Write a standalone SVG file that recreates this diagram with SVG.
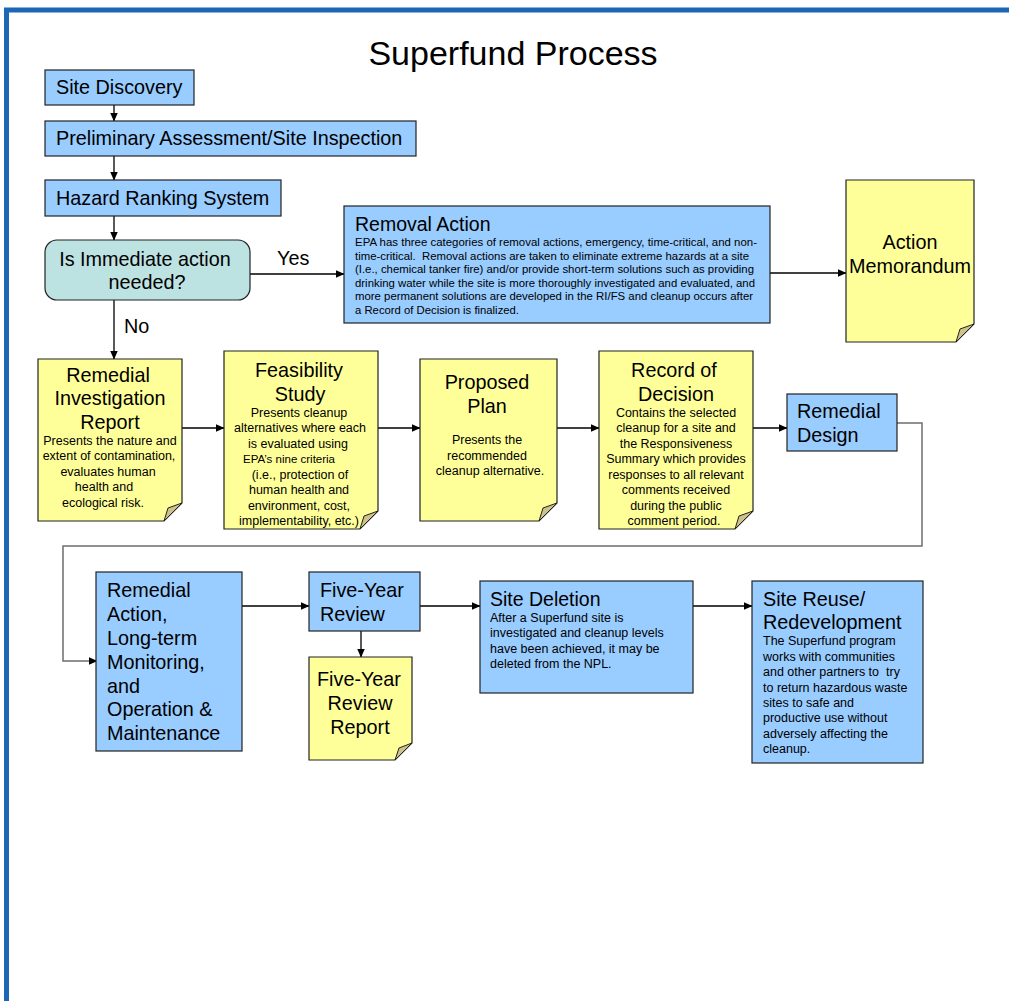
<svg xmlns="http://www.w3.org/2000/svg" width="1009" height="1001" viewBox="0 0 1009 1001">
<defs>
<marker id="ah" markerWidth="9" markerHeight="8" refX="8.5" refY="4" orient="auto" markerUnits="userSpaceOnUse">
<path d="M0,0 L9,4 L0,8 Z" fill="#000"/>
</marker>
<style>
text{font-family:"Liberation Sans",Arial,sans-serif;fill:#000}
.big{font-size:19.8px}
.body{font-size:12.5px}
.rm{font-size:11px}
.c{text-anchor:middle}
.box{fill:#99ccff;stroke:#222;stroke-width:1.2}
.note{fill:#ffff99;stroke:#222;stroke-width:1.2}
.fold{fill:#cdc28a;stroke:#222;stroke-width:1}
.dec{fill:#bde2e2;stroke:#222;stroke-width:1.2}
.cn{fill:none;stroke:#000;stroke-width:1.3}
.cg{fill:none;stroke:#6e6e6e;stroke-width:1.5}
</style>
</defs>
<rect x="0" y="0" width="1009" height="1001" fill="#fff"/>
<rect x="6.5" y="10" width="1010" height="1000" fill="none" stroke="#1b67b6" stroke-width="5"/>
<text x="513" y="65" class="c" style="font-size:34px">Superfund Process</text>

<g id="connectors">
<line x1="114" y1="105" x2="114" y2="121" class="cn" marker-end="url(#ah)"/>
<line x1="114" y1="156" x2="114" y2="180" class="cn" marker-end="url(#ah)"/>
<line x1="114" y1="216" x2="114" y2="240" class="cn" marker-end="url(#ah)"/>
<line x1="250" y1="274" x2="344" y2="274" class="cn" marker-end="url(#ah)"/>
<line x1="114" y1="300" x2="114" y2="359" class="cn" marker-end="url(#ah)"/>
<line x1="770" y1="273" x2="846" y2="273" class="cn" marker-end="url(#ah)"/>
<line x1="182" y1="428" x2="224" y2="428" class="cn" marker-end="url(#ah)"/>
<line x1="378" y1="428" x2="420" y2="428" class="cn" marker-end="url(#ah)"/>
<line x1="557" y1="428" x2="599" y2="428" class="cn" marker-end="url(#ah)"/>
<line x1="753" y1="428" x2="787" y2="428" class="cn" marker-end="url(#ah)"/>
<polyline points="897,423 922,423 922,546 63,546 63,661 96,661" class="cg"/>
<line x1="90" y1="661" x2="97" y2="661" class="cn" marker-end="url(#ah)"/>
<line x1="242" y1="606" x2="309" y2="606" class="cn" marker-end="url(#ah)"/>
<line x1="361" y1="631" x2="361" y2="657" class="cn" marker-end="url(#ah)"/>
<line x1="420" y1="606" x2="480" y2="606" class="cn" marker-end="url(#ah)"/>
<line x1="693" y1="606" x2="752" y2="606" class="cn" marker-end="url(#ah)"/>
<text x="277" y="265" class="big">Yes</text>
<text x="124" y="333" class="big">No</text>
</g>

<g id="site-discovery">
<rect x="45" y="70" width="149" height="35" class="box"/>
<text x="56" y="94" class="big">Site Discovery</text>
</g>
<g id="pa-si">
<rect x="45" y="121" width="371" height="35" class="box"/>
<text x="56" y="145" class="big">Preliminary Assessment/Site Inspection</text>
</g>
<g id="hrs">
<rect x="45" y="180" width="236" height="36" class="box"/>
<text x="56" y="205" class="big">Hazard Ranking System</text>
</g>
<g id="decision">
<rect x="45" y="240" width="205" height="60" rx="12" class="dec"/>
<text x="145" y="266" class="big c">Is Immediate action</text>
<text x="147" y="289" class="big c">needed?</text>
</g>
<g id="removal-action">
<rect x="344" y="206" width="426" height="117" class="box"/>
<text x="355" y="231" style="font-size:19.5px">Removal Action</text>
<text x="355" y="246" class="rm" textLength="402" lengthAdjust="spacingAndGlyphs">EPA has three categories of removal actions, emergency, time-critical, and non-</text>
<text x="355" y="259.5" class="rm" textLength="394" lengthAdjust="spacingAndGlyphs" xml:space="preserve">time-critical.  Removal actions are taken to eliminate extreme hazards at a site</text>
<text x="355" y="273" class="rm" textLength="399" lengthAdjust="spacingAndGlyphs">(I.e., chemical tanker fire) and/or provide short-term solutions such as providing</text>
<text x="355" y="286.5" class="rm" textLength="400" lengthAdjust="spacingAndGlyphs">drinking water while the site is more thoroughly investigated and evaluated, and</text>
<text x="355" y="300" class="rm" textLength="398" lengthAdjust="spacingAndGlyphs">more permanent solutions are developed in the RI/FS and cleanup occurs after</text>
<text x="355" y="313.5" class="rm" textLength="164" lengthAdjust="spacingAndGlyphs">a Record of Decision is finalized.</text>
</g>
<g id="action-memorandum">
<path d="M846 180 H974 V324 L956 342 H846 Z" class="note"/>
<path d="M974 324 L956 342 L960 329 Z" class="fold"/>
<text x="910" y="249" class="big c">Action</text>
<text x="910" y="273" class="big c">Memorandum</text>
</g>
<g id="ri-report">
<path d="M38 359 H182 V503 L164 521 H38 Z" class="note"/>
<path d="M182 503 L164 521 L168 508 Z" class="fold"/>
<text x="108" y="382" class="big c">Remedial</text>
<text x="110" y="405" class="big c">Investigation</text>
<text x="110" y="429" class="big c">Report</text>
<text x="110" y="445" class="body c">Presents the nature and</text>
<text x="109" y="460" class="body c">extent of contamination,</text>
<text x="108" y="476" class="body c">evaluates human</text>
<text x="104" y="491" class="body c">health and</text>
<text x="103" y="507" class="body c">ecological risk.</text>
</g>
<g id="feasibility-study">
<path d="M224 351 H378 V511 L360 529 H224 Z" class="note"/>
<path d="M378 511 L360 529 L364 516 Z" class="fold"/>
<text x="299" y="377" class="big c">Feasibility</text>
<text x="300" y="401" class="big c">Study</text>
<text x="299" y="417" class="body c">Presents cleanup</text>
<text x="300" y="432" class="body c">alternatives where each</text>
<text x="298" y="448" class="body c">is evaluated using</text>
<text x="289" y="463" class="c" style="font-size:11.5px">EPA’s nine criteria</text>
<text x="300" y="479" class="body c">(i.e., protection of</text>
<text x="299" y="494" class="body c">human health and</text>
<text x="299" y="510" class="body c">environment, cost,</text>
<text x="299" y="525" class="body c">implementability, etc.)</text>
</g>
<g id="proposed-plan">
<path d="M420 359 H557 V503 L539 521 H420 Z" class="note"/>
<path d="M557 503 L539 521 L543 508 Z" class="fold"/>
<text x="487" y="389" class="big c">Proposed</text>
<text x="487" y="413" class="big c">Plan</text>
<text x="487" y="444" class="body c">Presents the</text>
<text x="487" y="460" class="body c">recommended</text>
<text x="490" y="475" class="body c">cleanup alternative.</text>
</g>
<g id="record-of-decision">
<path d="M599 351 H753 V511 L735 529 H599 Z" class="note"/>
<path d="M753 511 L735 529 L739 516 Z" class="fold"/>
<text x="674" y="377" class="big c">Record of</text>
<text x="676" y="401" class="big c">Decision</text>
<text x="676" y="417" class="body c">Contains the selected</text>
<text x="676" y="432" class="body c">cleanup for a site and</text>
<text x="676" y="448" class="body c">the Responsiveness</text>
<text x="676" y="463" class="body c">Summary which provides</text>
<text x="676" y="479" class="body c">responses to all relevant</text>
<text x="676" y="494" class="body c">comments received</text>
<text x="676" y="510" class="body c">during the public</text>
<text x="674" y="525" class="body c">comment period.</text>
</g>
<g id="remedial-design">
<rect x="787" y="394" width="110" height="57" class="box"/>
<text x="797" y="418" class="big">Remedial</text>
<text x="797" y="442" class="big">Design</text>
</g>
<g id="remedial-action">
<rect x="96" y="572" width="146" height="179" class="box"/>
<text x="107" y="597" class="big">Remedial</text>
<text x="107" y="621" class="big">Action,</text>
<text x="107" y="645" class="big">Long-term</text>
<text x="107" y="669" class="big">Monitoring,</text>
<text x="107" y="693" class="big">and</text>
<text x="107" y="716" class="big">Operation &amp;</text>
<text x="107" y="740" class="big">Maintenance</text>
</g>
<g id="five-year-review">
<rect x="309" y="572" width="111" height="59" class="box"/>
<text x="320" y="597" class="big">Five-Year</text>
<text x="320" y="621" class="big">Review</text>
</g>
<g id="five-year-review-report">
<path d="M309 657 H412 V743 L395 760 H309 Z" class="note"/>
<path d="M412 743 L395 760 L399 748 Z" class="fold"/>
<text x="359" y="686" class="big c">Five-Year</text>
<text x="360" y="710" class="big c">Review</text>
<text x="360" y="734" class="big c">Report</text>
</g>
<g id="site-deletion">
<rect x="480" y="581" width="213" height="112" class="box"/>
<text x="490" y="606" style="font-size:19.5px">Site Deletion</text>
<text x="490" y="622" class="body">After a Superfund site is</text>
<text x="490" y="637" class="body">investigated and cleanup levels</text>
<text x="490" y="653" class="body">have been achieved, it may be</text>
<text x="490" y="668" class="body">deleted from the NPL.</text>
</g>
<g id="site-reuse">
<rect x="752" y="581" width="171" height="182" class="box"/>
<text x="763" y="606" class="big">Site Reuse/</text>
<text x="763" y="629" class="big">Redevelopment</text>
<text x="763" y="645" class="body">The Superfund program</text>
<text x="763" y="661" class="body">works with communities</text>
<text x="763" y="676" class="body" xml:space="preserve">and other partners to  try</text>
<text x="763" y="692" class="body">to return hazardous waste</text>
<text x="763" y="707" class="body">sites to safe and</text>
<text x="763" y="722" class="body">productive use without</text>
<text x="763" y="738" class="body">adversely affecting the</text>
<text x="763" y="753" class="body">cleanup.</text>
</g>
</svg>
